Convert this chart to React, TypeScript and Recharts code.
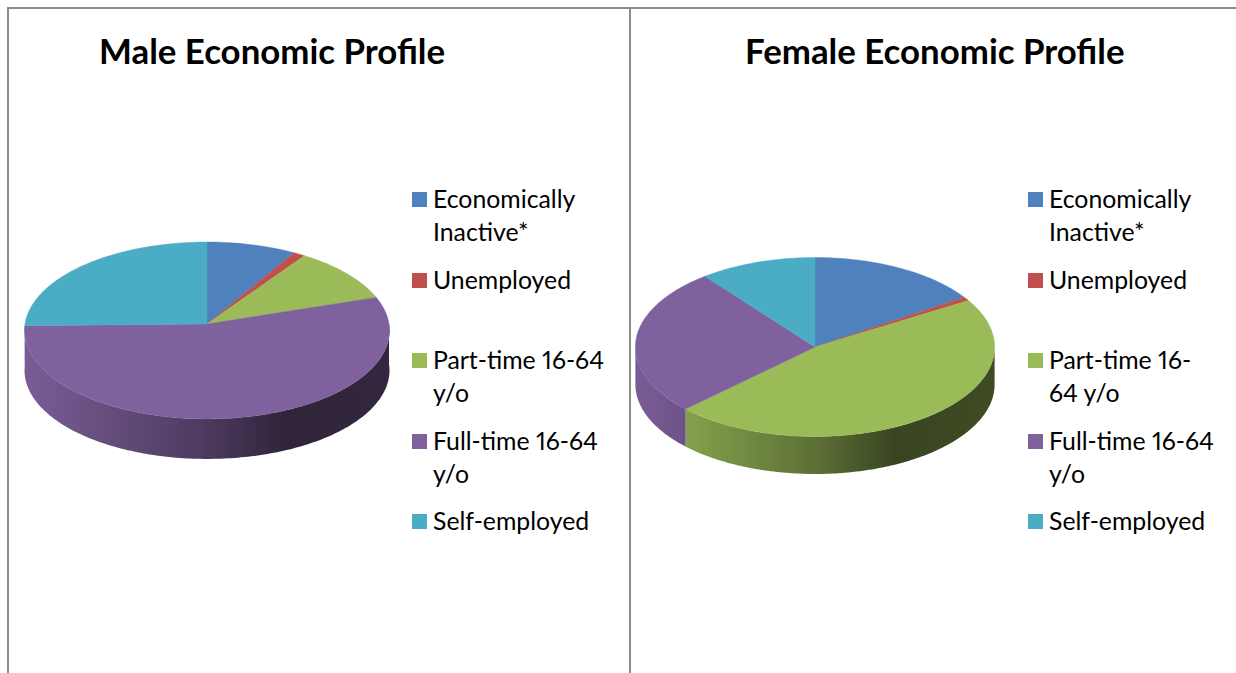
import { PieChart, Pie, Legend } from 'recharts'

const categories = ['Economically Inactive*', 'Unemployed', 'Part-time 16-64 y/o', 'Full-time 16-64 y/o', 'Self-employed']
const colors = ['#4f81bd', '#c0504d', '#9bbb59', '#7f619d', '#4bacc6']
const maleValues = [8.5, 1.1, 10.4, 54.7, 25.3]
const femaleValues = [15.6, 0.7, 46.5, 26.7, 10.5]
// line breaks as in the original legends
const maleLegendLines = [['Economically', 'Inactive*'], ['Unemployed'], ['Part-time 16-64', 'y/o'], ['Full-time 16-64', 'y/o'], ['Self-employed']]
const femaleLegendLines = [['Economically', 'Inactive*'], ['Unemployed'], ['Part-time 16-', '64 y/o'], ['Full-time 16-64', 'y/o'], ['Self-employed']]

const FONT = 'Lato, sans-serif'
const legendTops = [183, 264, 344, 425, 505]
const wallStops: [number, number][] = [[0, 0.95], [0.14, 0.86], [0.5, 0.6], [0.72, 0.37], [1, 0.4]]

const shade = (hex: string, f: number) => {
  const n = parseInt(hex.slice(1), 16)
  const ch = (s: number) => Math.round(((n >> s) & 255) * f)
  return `rgb(${ch(16)},${ch(8)},${ch(0)})`
}

type PanelProps = {
  id: string
  left: number
  width: number
  title: string
  titleX: number
  values: number[]
  lines: string[][]
  cx: number
  cy: number
  rx: number
  ry: number
  tilt: number
  depth: number
  legendX: number
}

function Panel({ id, left, width, title, titleX, values, lines, cx, cy, rx, ry, tilt, depth, legendX }: PanelProps) {
  const rows = categories.map((name, i) => ({ name, value: values[i], fill: colors[i] }))

  // pie lying on its back: polar angle -> screen point with a bit of perspective
  const project = (deg: number, dy = 0) => {
    const t = (deg * Math.PI) / 180
    const w = 1 + tilt * Math.cos(t)
    return [cx + (rx * Math.sin(t)) / w, cy - (ry * Math.cos(t)) / w + dy]
  }
  const arc = (from: number, to: number, dy = 0) => {
    const n = Math.max(2, Math.ceil(Math.abs(to - from)))
    return Array.from({ length: n + 1 }, (_, k) => project(from + ((to - from) * k) / n, dy))
  }
  const toPath = (pts: number[][]) => 'M' + pts.map((p) => `${p[0].toFixed(2)} ${p[1].toFixed(2)}`).join('L') + 'Z'

  const renderSlice = (props: any) => {
    const a = 90 - props.startAngle
    const b = 90 - props.endAngle
    const wallFrom = Math.max(a, 90)
    const wallTo = Math.min(b, 270)
    const color = colors[categories.indexOf(props.name)]
    const idx = categories.indexOf(props.name)
    return (
      <g>
        {wallTo > wallFrom && (
          <path
            d={toPath([...arc(wallFrom, wallTo), ...arc(wallTo, wallFrom, depth)])}
            fill={`url(#${id}-wall-${idx})`}
          />
        )}
        <path d={toPath([[cx, cy], ...arc(a, b)])} fill={color} stroke={color} strokeWidth={0.4} />
      </g>
    )
  }

  const renderLegend = () => (
    <div
      style={{
        position: 'relative',
        width: width,
        height: 673,
        fontFamily: FONT,
        fontSize: 24.8,
        fontVariantNumeric: 'proportional-nums',
        color: '#000',
      }}
    >
      {categories.map((name, i) => (
        <div key={name} style={{ position: 'absolute', left: legendX - left, top: legendTops[i] }}>
          <div style={{ position: 'absolute', left: 0, top: 9, width: 15, height: 15, background: colors[i] }} />
          {lines[i].map((line) => (
            <div key={line} style={{ marginLeft: 21, height: 32.5, lineHeight: '32.5px', whiteSpace: 'nowrap' }}>
              {line}
            </div>
          ))}
        </div>
      ))}
    </div>
  )

  return (
    <div style={{ position: 'absolute', left, top: 0, width, height: 673 }}>
      <PieChart width={width} height={673} margin={{ top: 0, right: 0, bottom: 0, left: 0 }}>
        <defs>
          {colors.map((c, i) => (
            <linearGradient key={c} id={`${id}-wall-${i}`} gradientUnits="userSpaceOnUse" x1={cx - rx} x2={cx + rx} y1={0} y2={0}>
              {wallStops.map(([o, f]) => (
                <stop key={o} offset={o} stopColor={shade(c, f)} />
              ))}
            </linearGradient>
          ))}
        </defs>
        <Pie
          data={rows}
          dataKey="value"
          nameKey="name"
          cx={cx}
          cy={cy}
          outerRadius={rx}
          startAngle={90}
          endAngle={-270}
          stroke="none"
          shape={renderSlice}
          isAnimationActive={false}
        />
        <Legend content={renderLegend} wrapperStyle={{ left: 0, top: 0, width, height: 673 }} />
      </PieChart>
      <div
        style={{
          position: 'absolute',
          left: titleX - left,
          top: 29,
          fontFamily: FONT,
          fontWeight: 700,
          fontSize: 34.85,
          lineHeight: '44px',
          whiteSpace: 'nowrap',
          color: '#000',
        }}
      >
        {title}
      </div>
    </div>
  )
}

export default function App() {
  return (
    <div style={{ position: 'absolute', left: 0, top: 0, width: 1236, height: 673, overflow: 'hidden', background: '#fff' }}>
      <Panel
        id="male"
        left={0}
        width={630}
        title="Male Economic Profile"
        titleX={99}
        values={maleValues}
        lines={maleLegendLines}
        cx={207}
        cy={324}
        rx={182}
        ry={88}
        tilt={0.073}
        depth={40}
        legendX={412}
      />
      <Panel
        id="female"
        left={631}
        width={605}
        title="Female Economic Profile"
        titleX={745}
        values={femaleValues}
        lines={femaleLegendLines}
        cx={184}
        cy={347}
        rx={179.6}
        ry={89.5}
        tilt={0}
        depth={37.5}
        legendX={1028}
      />
      <div style={{ position: 'absolute', left: 7, top: 7, width: 1229, height: 2, background: '#8c8c8c' }} />
      <div style={{ position: 'absolute', left: 7, top: 7, width: 2, height: 666, background: '#8c8c8c' }} />
      <div style={{ position: 'absolute', left: 629, top: 7, width: 2, height: 666, background: '#8c8c8c' }} />
    </div>
  )
}
